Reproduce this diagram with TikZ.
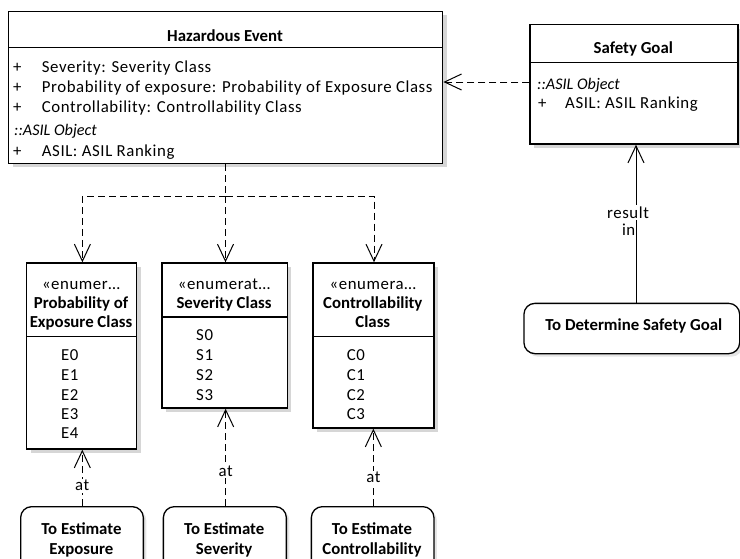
\documentclass[tikz,border=0pt]{standalone}
\usepackage{fontspec}
\setmainfont{Carlito}
\newfontfamily\spacedfont[LetterSpace=3.5]{Carlito}
\usetikzlibrary{arrows.meta,shadows}

\begin{document}
\begin{tikzpicture}[x=1pt,y=-1pt,
  every node/.style={font=\fontsize{16.8}{20}\selectfont\spacedfont, inner sep=0pt},
  classbox/.style={draw, line width=1.4pt, fill=white, rectangle, anchor=north west,
    drop shadow={shadow xshift=4pt, shadow yshift=-4pt, fill=black!16, opacity=1}},
  actbox/.style={draw, line width=1.3pt, fill=white, rectangle, rounded corners=11pt, anchor=north west,
    drop shadow={shadow xshift=3pt, shadow yshift=-3pt, fill=black!10, opacity=1}},
  sep/.style={line width=1.4pt},
  item/.style={anchor=base west},
  stereo/.style={anchor=base west, font=\fontsize{16.2}{20}\selectfont\itshape},
  title/.style={anchor=base, font=\fontsize{16.8}{20}\selectfont\bfseries},
  ctr/.style={anchor=base},
  dep/.style={line width=1pt, dash pattern=on 7pt off 4pt, -{Straight Barb[length=17pt,width=16pt]}},
  assoc/.style={line width=1pt, -{Straight Barb[length=17pt,width=16pt]}},
  lbl/.style={fill=white, inner sep=1.5pt},
]
\useasboundingbox (0,0) rectangle (740,558);

% ---------- Hazardous Event ----------
\node[classbox, minimum width=434pt, minimum height=152pt] (he) at (8,10.7) {};
\draw[sep] ([yshift=-37pt]he.north west) -- ([yshift=-37pt]he.north east);
\node[title] at (225,41) {Hazardous Event};
\node[item] at (13,72) {+};
\node[item] at (41.7,72) {Severity: Severity Class};
\node[item] at (13,92.3) {+};
\node[item] at (41.7,92.3) {Probability of exposure: Probability of Exposure Class};
\node[item] at (13,112) {+};
\node[item] at (41.7,112) {Controllability: Controllability Class};
\node[stereo] at (14,135.7) {::ASIL Object};
\node[item] at (13,156.7) {+};
\node[item] at (41.7,156.7) {ASIL: ASIL Ranking};

% ---------- Safety Goal ----------
\node[classbox, minimum width=208pt, minimum height=119.3pt] (sg) at (529.3,24) {};
\draw[sep] ([yshift=-38.3pt]sg.north west) -- ([yshift=-38.3pt]sg.north east);
\node[title] at (633.3,53.3) {Safety Goal};
\node[stereo] at (537,89) {::ASIL Object};
\node[item] at (538,108.3) {+};
\node[item] at (565,108.3) {ASIL: ASIL Ranking};

% ---------- Probability of Exposure Class ----------
\node[classbox, minimum width=110pt, minimum height=186pt] (prob) at (26,262.3) {};
\draw[sep] ([yshift=-74.4pt]prob.north west) -- ([yshift=-74.4pt]prob.north east);
\node[ctr] at (81,289.3) {«enumer…};
\node[title] at (81,308.3) {Probability of};
\node[title] at (81,327.7) {Exposure Class};
\node[item] at (61,360) {E0};
\node[item] at (61,380) {E1};
\node[item] at (61,400) {E2};
\node[item] at (61,419.3) {E3};
\node[item] at (61,438.3) {E4};

% ---------- Severity Class ----------
\node[classbox, minimum width=125.4pt, minimum height=145pt] (sev) at (161.3,262.3) {};
\draw[sep] ([yshift=-54.7pt]sev.north west) -- ([yshift=-54.7pt]sev.north east);
\node[ctr] at (224,289.3) {«enumerat…};
\node[title] at (224,308.3) {Severity Class};
\node[item] at (196,340) {S0};
\node[item] at (196,360) {S1};
\node[item] at (196,380) {S2};
\node[item] at (196,400) {S3};

% ---------- Controllability Class ----------
\node[classbox, minimum width=121pt, minimum height=165pt] (ctrl) at (312.3,262.3) {};
\draw[sep] ([yshift=-74.4pt]ctrl.north west) -- ([yshift=-74.4pt]ctrl.north east);
\node[ctr] at (372.8,289.3) {«enumera…};
\node[title] at (372.8,308.3) {Controllability};
\node[title] at (372.8,327.7) {Class};
\node[item] at (346.7,360) {C0};
\node[item] at (346.7,380) {C1};
\node[item] at (346.7,400) {C2};
\node[item] at (346.7,419.3) {C3};

% ---------- Activities ----------
\node[actbox, minimum width=215.7pt, minimum height=50.3pt] (det) at (523.3,302.7) {};
\node[title] at (633.8,330) {To Determine Safety Goal};

\node[actbox, minimum width=122.7pt, minimum height=64pt] (ee) at (20,506) {};
\node[title] at (81.4,534) {To Estimate};
\node[title] at (81.4,554) {Exposure};

\node[actbox, minimum width=123pt, minimum height=64pt] (es) at (162.7,506) {};
\node[title] at (224.2,534) {To Estimate};
\node[title] at (224.2,554) {Severity};

\node[actbox, minimum width=122.6pt, minimum height=64pt] (ec) at (310.7,506) {};
\node[title] at (372,534) {To Estimate};
\node[title] at (372,554) {Controllability};

% ---------- Connectors ----------
\coordinate (fork) at (225.5,196);
\draw[line width=1pt, dash pattern=on 7pt off 4pt] (he.south -| fork) -- (fork);
\draw[dep] (fork) -| ([xshift=0.7pt]prob.north);
\draw[dep] (fork) -- (fork |- sev.north);
\draw[dep] (fork) -| ([xshift=0.5pt]ctrl.north);

\draw[dep] ([yshift=-58pt]sg.north west) -- ([yshift=-58pt]sg.north west -| he.east);

\coordinate (rx) at (636,0);
\draw[assoc] (det.north -| rx) -- (sg.south -| rx);
\node[lbl, anchor=base] at (628,218) {result};
\node[anchor=base east] at (635.5,235.5) {in};

\draw[dep] ([xshift=0.3pt]ee.north) -- ([xshift=0.3pt]ee.north |- prob.south)
  node[lbl, pos=0.36] {at};
\draw[dep] ([xshift=0.8pt]es.north) -- ([xshift=0.8pt]es.north |- sev.south)
  node[lbl, pos=0.36] {at};
\draw[dep] ([xshift=0.7pt]ec.north) -- ([xshift=0.7pt]ec.north |- ctrl.south)
  node[lbl, pos=0.37] {at};
\end{tikzpicture}
\end{document}
